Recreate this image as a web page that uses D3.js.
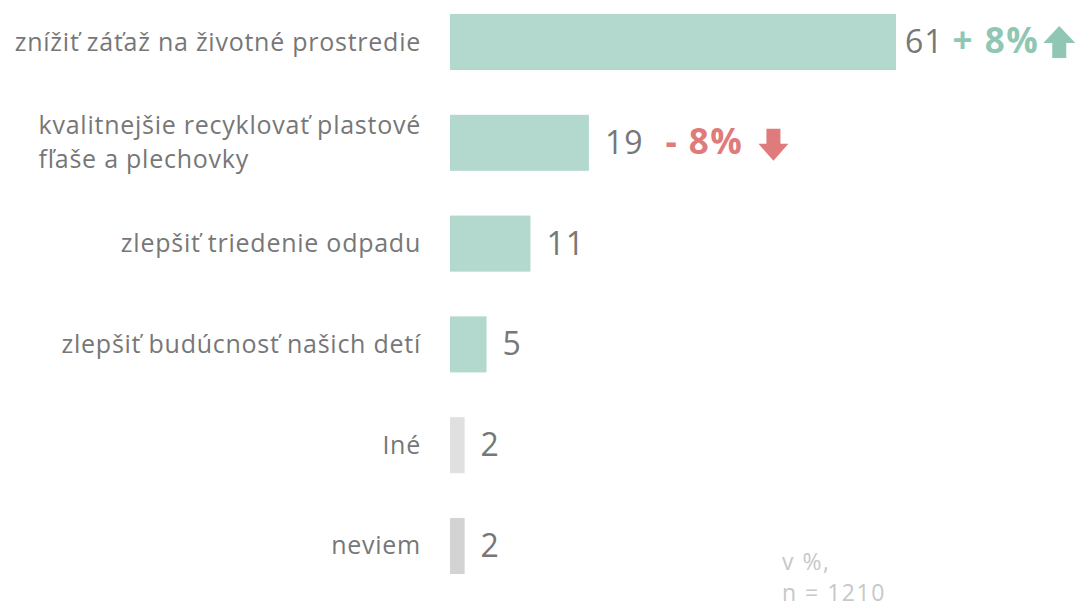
<!DOCTYPE html>
<html>
<head>
    <meta charset="UTF-8">
    <title>Dôvody</title>
    <script src="https://d3js.org/d3.v7.min.js"></script>
    <style>
        body { margin: 0; background: #fff; }
        text { font-family: "Open Sans", sans-serif; }
    </style>
</head>
<body>
    <div id="chart"></div>

    <script type="text/javascript">

        // data
        let categories = [
            ["znížiť záťaž na životné prostredie"],
            ["kvalitnejšie recyklovať plastové", "fľaše a plechovky"],
            ["zlepšiť triedenie odpadu"],
            ["zlepšiť budúcnosť našich detí"],
            ["Iné"],
            ["neviem"]
        ];
        let values = [61, 19, 11, 5, 2, 2];
        let changes = [8, -8, null, null, null, null];
        let note = ["v %,", "n = 1210"];

        let barColors = ["#b3d9ce", "#b3d9ce", "#b3d9ce", "#b3d9ce", "#e0e0e0", "#d3d3d3"];

        let width = 1079, height = 607;
        let barLeft = 450;

        let svg = d3.select("#chart")
            .append("svg")
            .attr("width", width)
            .attr("height", height);

        let x = d3.scaleLinear()
            .domain([0, 61])
            .range([barLeft, 896]);

        let y = d3.scaleBand()
            .domain(d3.range(values.length))
            .range([14, 574])
            .paddingInner(0.444)
            .paddingOuter(0);

        let rows = svg.selectAll(".row")
            .data(values)
            .enter()
            .append("g")
            .attr("class", "row");

        // bars
        rows.append("rect")
            .attr("x", x(0))
            .attr("y", (d, i) => y(i))
            .attr("width", d => x(d) - x(0))
            .attr("height", y.bandwidth())
            .style("fill", (d, i) => barColors[i]);

        // category labels (multi-line block is right aligned, lines left aligned)
        rows.each(function (d, i) {
            let g = d3.select(this);
            let lines = categories[i];
            let cy = y(i) + y.bandwidth() / 2;
            let lh = 34;
            let t = g.append("text")
                .style("font-size", "25px")
                .style("letter-spacing", "0.75px")
                .style("fill", "#777");
            lines.forEach(function (line, k) {
                t.append("tspan")
                    .attr("x", 0)
                    .attr("y", cy + 8.5 + (k - (lines.length - 1) / 2) * lh)
                    .text(line);
            });
            let w = t.node().getBBox().width;
            t.selectAll("tspan").attr("x", 421 - w);
        });

        // value labels
        rows.append("text")
            .attr("class", "val")
            .attr("x", (d, i) => x(d) + (i === 0 ? 9 : 16))
            .attr("y", (d, i) => y(i) + y.bandwidth() / 2 + 11)
            .style("font-size", "32px")
            .style("letter-spacing", "1px")
            .style("fill", "#777")
            .text(d => d);

        // change vs. previous wave
        rows.each(function (d, i) {
            let c = changes[i];
            if (c === null) return;
            let g = d3.select(this);
            let up = c > 0;
            let col = up ? "#8fc7b4" : "#e07b7b";
            let valNode = g.select(".val").node();
            let vx = +valNode.getAttribute("x") + valNode.getComputedTextLength();
            let cy = y(i) + y.bandwidth() / 2;
            let t = g.append("text")
                .attr("x", vx + (up ? 9 : 22))
                .attr("y", cy + 11)
                .style("font-size", "35px")
                .style("font-weight", "bold")
                .style("letter-spacing", "1.5px")
                .style("fill", col)
                .text((up ? "+ " : "- ") + Math.abs(c) + "%");
            let ax = +t.attr("x") + t.node().getComputedTextLength() + (up ? 20 : 30);
            let arrow = up
                ? "M0,-16 L16,1 L7,1 L7,16 L-7,16 L-7,1 L-16,1 Z"
                : "M0,16 L15,-1 L7,-1 L7,-16 L-7,-16 L-7,-1 L-15,-1 Z";
            g.append("path")
                .attr("transform", "translate(" + ax + "," + (cy + (up ? 0 : 2)) + ")")
                .attr("d", arrow)
                .style("fill", col);
        });

        // footnote
        svg.append("text")
            .selectAll("tspan")
            .data(note)
            .enter()
            .append("tspan")
            .attr("x", 782)
            .attr("y", (d, i) => 570 + i * 31)
            .text(d => d)
            .style("font-size", "23px")
            .style("letter-spacing", "1.5px")
            .style("fill", "#c8c8c8");

    </script>
</body>
</html>
